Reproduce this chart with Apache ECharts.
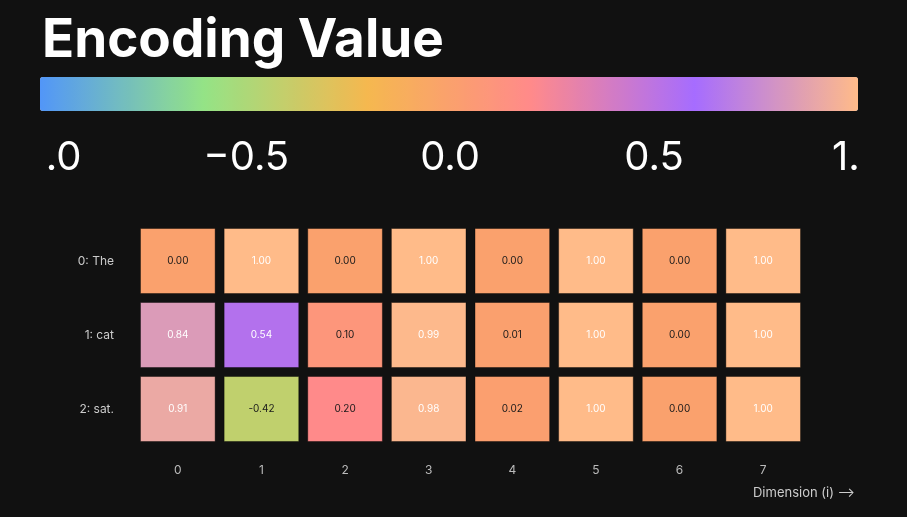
<!DOCTYPE html>
<html>
<head>
<meta charset="utf-8">
<script src="https://cdn.jsdelivr.net/npm/echarts@6/dist/echarts.min.js"></script>
<style>
  html, body { margin: 0; padding: 0; background: #111111; }
  #main { width: 907px; height: 517px; }
</style>
</head>
<body>
<div id="main"></div>
<script>
// positional encoding values, rows = tokens, cols = dimension i
var tokens = ['0: The', '1: cat', '2: sat.'];
var dims = ['0', '1', '2', '3', '4', '5', '6', '7'];
var row0 = [0.00, 1.00, 0.00, 1.00, 0.00, 1.00, 0.00, 1.00];
var row1 = [0.84, 0.54, 0.10, 0.99, 0.01, 1.00, 0.00, 1.00];
var row2 = [0.91, -0.42, 0.20, 0.98, 0.02, 1.00, 0.00, 1.00];
var palette = ['#5296f8', '#94e386', '#f5b84f', '#ff8a8a', '#a66cff', '#ffbb89'];

var rows = [row0, row1, row2];
var cells = [];
rows.forEach(function (r, y) {
  r.forEach(function (v, x) { cells.push([x, y, v]); });
});

var chartDom = document.getElementById('main');
var myChart = echarts.init(chartDom);
var font = 'Inter, "Noto Sans", sans-serif';

var option = {
  backgroundColor: '#111111',
  textStyle: { fontFamily: font },
  title: {
    text: 'Encoding Value',
    left: 37, top: 10,
    textStyle: { color: '#ffffff', fontSize: 53, fontWeight: 700, fontFamily: font }
  },
  visualMap: {
    type: 'continuous',
    min: -1, max: 1,
    orient: 'horizontal',
    left: 40, top: 77,
    itemWidth: 34, itemHeight: 818,
    padding: 0,
    text: ['', ''],
    showLabel: false,
    calculable: false,
    seriesIndex: 0,
    inRange: { color: palette }
  },
  grid: [
    { left: 136, width: 669, top: 224, height: 222 },
    { left: 40, width: 818, top: 77, height: 34 }
  ],
  xAxis: [
    {
      type: 'category', data: dims, gridIndex: 0,
      axisLine: { show: false }, axisTick: { show: false }, splitLine: { show: false },
      axisLabel: { color: '#bbbbbb', fontSize: 12, margin: 18 }
    },
    {
      type: 'value', gridIndex: 1, min: -1, max: 1, interval: 0.5,
      axisLine: { show: false }, axisTick: { show: false }, splitLine: { show: false },
      axisLabel: {
        color: '#ffffff', fontSize: 40, margin: 27,
        formatter: function (v) {
          var s = v.toFixed(1);
          return v < 0 ? '\u2212' + s.slice(1) : s;
        }
      }
    }
  ],
  yAxis: [
    {
      type: 'category', data: tokens, gridIndex: 0, inverse: true,
      axisLine: { show: false }, axisTick: { show: false }, splitLine: { show: false },
      axisLabel: { color: '#cccccc', fontSize: 12, margin: 22 }
    },
    { type: 'value', gridIndex: 1, show: false }
  ],
  graphic: [
    // labels of the scale are cut at the bar's ends
    { type: 'rect', left: 0, top: 120, shape: { width: 45, height: 70 }, style: { fill: '#111111' }, z: 100 },
    { type: 'rect', left: 858, top: 120, shape: { width: 49, height: 70 }, style: { fill: '#111111' }, z: 100 },
    { type: 'text', right: 52, top: 487, style: { text: 'Dimension (i) \u27F6', fill: '#cccccc', font: '13px ' + font }, z: 100 }
  ],
  series: [{
    type: 'custom',
    xAxisIndex: 0, yAxisIndex: 0,
    data: cells,
    encode: { x: 0, y: 1 },
    renderItem: function (params, api) {
      var p = api.coord([api.value(0), api.value(1)]);
      var s = api.size([1, 1]);
      var v = api.value(2);
      var w = s[0] - 9, h = s[1] - 9;
      return {
        type: 'group',
        children: [
          {
            type: 'rect',
            shape: { x: p[0] - w / 2, y: p[1] - h / 2, width: w, height: h },
            style: { fill: api.visual('color'), stroke: 'rgba(0,0,0,0.38)', lineWidth: 1 }
          },
          {
            type: 'text',
            style: {
              x: p[0], y: p[1], text: v.toFixed(2),
              align: 'center', verticalAlign: 'middle',
              fill: v > 0.3 ? '#ffffff' : '#1a1a1a',
              font: '10px ' + font
            }
          }
        ]
      };
    }
  }]
};

myChart.setOption(option);
</script>
</body>
</html>
